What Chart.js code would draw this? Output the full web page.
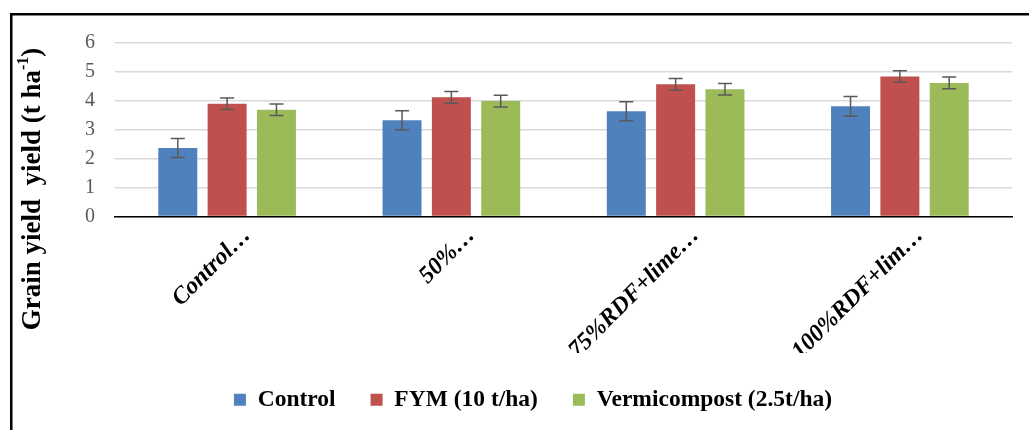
<!DOCTYPE html>
<html>
<head>
<meta charset="utf-8">
<script src="https://cdn.jsdelivr.net/npm/chart.js"></script>
<style>
  html, body { margin: 0; padding: 0; background: #fff; }
  #wrap { position: relative; width: 1029px; height: 430px; }
</style>
</head>
<body>
<div id="wrap"><canvas id="myChart" width="1029" height="430"></canvas></div>
<script>
// Grain yield (t/ha) by treatment
let treatments = ["Control…", "50%…", "75%RDF+lime…", "100%RDF+lim…"];
let seriesNames = ["Control", "FYM (10 t/ha)", "Vermicompost (2.5t/ha)"];
let controlValues = [2.37, 3.33, 3.64, 3.81];
let fymValues = [3.90, 4.12, 4.57, 4.84];
let vermiValues = [3.69, 3.99, 4.40, 4.62];
let controlErr = [0.33, 0.33, 0.33, 0.34];
let fymErr = [0.2, 0.2, 0.2, 0.2];
let vermiErr = [0.2, 0.2, 0.2, 0.2];
let yTicks = [0, 1, 2, 3, 4, 5, 6];
let barColors = ["#4F81BD", "#C0504D", "#9BBB59"];

const serif = "'Liberation Serif', 'Times New Roman', serif";

// black frame on left and top
const frame = {
  id: "frame",
  beforeDraw(chart) {
    const ctx = chart.ctx;
    ctx.save();
    ctx.fillStyle = "#000";
    ctx.fillRect(10, 13, 2.5, chart.height - 13);
    ctx.fillRect(10, 13, chart.width - 10, 2.5);
    ctx.restore();
  },
  // legend sits a bit right of centre in the original
  afterLayout(chart) {
    chart.legend.left += 54;
  }
};

// error bars from the errors arrays
const errorBars = {
  id: "errorBars",
  afterDatasetsDraw(chart) {
    const ctx = chart.ctx;
    const y = chart.scales.y;
    ctx.save();
    ctx.strokeStyle = "#595959";
    ctx.lineWidth = 1.5;
    chart.data.datasets.forEach((ds, i) => {
      chart.getDatasetMeta(i).data.forEach((bar, j) => {
        const top = y.getPixelForValue(ds.data[j] + ds.errors[j]);
        const bot = y.getPixelForValue(ds.data[j] - ds.errors[j]);
        ctx.beginPath();
        ctx.moveTo(bar.x, top); ctx.lineTo(bar.x, bot);
        ctx.moveTo(bar.x - 7, top); ctx.lineTo(bar.x + 7, top);
        ctx.moveTo(bar.x - 7, bot); ctx.lineTo(bar.x + 7, bot);
        ctx.stroke();
      });
    });
    ctx.restore();
  }
};

// y title with superscript
const yTitle = {
  id: "yTitle",
  afterDraw(chart) {
    const ctx = chart.ctx;
    const main = "Grain yield  yield (t ha", sup = "-1", tail = ")";
    const big = "bold 27px " + serif, small = "bold 16px " + serif;
    ctx.save();
    ctx.font = big;
    const w1 = ctx.measureText(main).width, w3 = ctx.measureText(tail).width;
    ctx.font = small;
    const w2 = ctx.measureText(sup).width;
    const total = w1 + w2 + w3;
    ctx.translate(33, 189);
    ctx.rotate(-Math.PI / 2);
    ctx.fillStyle = "#000";
    ctx.textBaseline = "middle";
    ctx.textAlign = "left";
    let x = -total / 2;
    ctx.font = big;
    ctx.fillText(main, x, 0);
    x += w1;
    ctx.font = small;
    ctx.fillText(sup, x, -9);
    x += w2;
    ctx.font = big;
    ctx.fillText(tail, x, 0);
    ctx.restore();
  }
};

new Chart("myChart", {
  type: "bar",
  data: {
    labels: treatments,
    datasets: [
      { label: seriesNames[0], data: controlValues, errors: controlErr, backgroundColor: barColors[0] },
      { label: seriesNames[1], data: fymValues, errors: fymErr, backgroundColor: barColors[1] },
      { label: seriesNames[2], data: vermiValues, errors: vermiErr, backgroundColor: barColors[2] }
    ]
  },
  options: {
    responsive: false,
    animation: false,
    layout: { padding: { top: 43, right: 17, left: 0, bottom: 8.5 } },
    datasets: { bar: { categoryPercentage: 0.66, barPercentage: 0.79, borderWidth: 0 } },
    plugins: {
      tooltip: { enabled: false },
      legend: {
        position: "bottom",
        labels: {
          boxWidth: 12, boxHeight: 12, padding: 35, color: "#000",
          font: { family: serif, size: 23.5, weight: "bold" }
        }
      }
    },
    scales: {
      x: {
        grid: { display: false, drawTicks: false },
        border: { color: "#000", width: 1.5 },
        ticks: {
          minRotation: 45, maxRotation: 45, autoSkip: false,
          labelOffset: 20, padding: 5, color: "#000",
          font: { family: serif, size: 24, weight: "bold", style: "italic" }
        },
        afterFit(scale) { scale.height = 136.5; }
      },
      y: {
        min: yTicks[0], max: yTicks[yTicks.length - 1],
        grid: { color: "#d9d9d9", lineWidth: 1.5, drawTicks: false },
        border: { display: false },
        ticks: {
          stepSize: 1, padding: 20, color: "#595959",
          font: { family: serif, size: 20 }
        },
        afterFit(scale) { scale.width = 115; }
      }
    }
  },
  plugins: [frame, errorBars, yTitle]
});
</script>
</body>
</html>
